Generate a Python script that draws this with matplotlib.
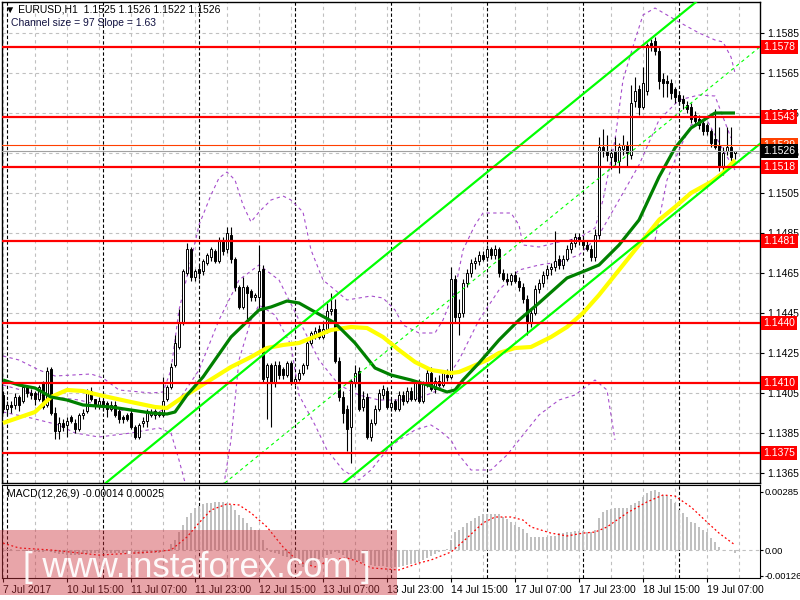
import numpy as np
import matplotlib.pyplot as plt
from matplotlib.patches import Rectangle

# ---- candle data: EURUSD H1, bar 0 = 7 Jul 23:00, bar 183 = 19 Jul 14:00 ----
opens = [
    1.1404, 1.1397, 1.1399, 1.1399, 1.1403, 1.1401, 1.1408, 1.1405, 1.1405, 1.1402,
    1.1410, 1.1399, 1.1417, 1.1395, 1.1386, 1.1390, 1.1389, 1.1393, 1.1390, 1.1387,
    1.1394, 1.1396, 1.1406, 1.1402, 1.1399, 1.1401, 1.1400, 1.1397, 1.1399, 1.1396,
    1.1393, 1.1394, 1.1395, 1.1388, 1.1383, 1.1390, 1.1391, 1.1394, 1.1394, 1.1395,
    1.1394, 1.1402, 1.1408, 1.1419, 1.1428, 1.1440, 1.1465, 1.1477, 1.1463, 1.1467,
    1.1466, 1.1470, 1.1473, 1.1476, 1.1471, 1.1481, 1.1477, 1.1484, 1.1472, 1.1458,
    1.1448, 1.1458, 1.1456, 1.1453, 1.1453, 1.1467, 1.1413, 1.1419, 1.1410, 1.1419,
    1.1417, 1.1414, 1.1420, 1.1410, 1.1412, 1.1415, 1.1419, 1.1430, 1.1434, 1.1437,
    1.1433, 1.1437, 1.1446, 1.1447, 1.1421, 1.1403, 1.1397, 1.1388, 1.1410, 1.1416,
    1.1398, 1.1403, 1.1383, 1.1390, 1.1397, 1.1404, 1.1406, 1.1398, 1.1401, 1.1397,
    1.1404, 1.1401, 1.1406, 1.1402, 1.1410, 1.1401, 1.1409, 1.1415, 1.1407, 1.1411,
    1.1409, 1.1414, 1.1413, 1.1462, 1.1443, 1.1445, 1.1460, 1.1465, 1.1470, 1.1471,
    1.1474, 1.1473, 1.1477, 1.1474, 1.1477, 1.1465, 1.1462, 1.1461, 1.1464, 1.1461,
    1.1458, 1.1452, 1.1440, 1.1445, 1.1457, 1.1460, 1.1464, 1.1467, 1.1468, 1.1472,
    1.1469, 1.1472, 1.1477, 1.1480, 1.1483, 1.1481, 1.1479, 1.1477, 1.1473, 1.1484,
    1.1528, 1.1526, 1.1523, 1.1526, 1.1521, 1.1527, 1.1529, 1.1524, 1.1551, 1.1557,
    1.1548, 1.1556, 1.1580, 1.1581, 1.1576, 1.1562, 1.1561, 1.1560, 1.1557, 1.1554,
    1.1552, 1.1549, 1.1548, 1.1544, 1.1542, 1.1540, 1.1539, 1.1536, 1.1532, 1.1529,
    1.1518, 1.1526, 1.1528, 1.1525,
]
highs = [
    1.1406, 1.1401, 1.1401, 1.1405, 1.1404, 1.1409, 1.1409, 1.1407, 1.1406, 1.1409,
    1.1411, 1.1418, 1.1418, 1.1398, 1.1393, 1.1392, 1.1393, 1.1394, 1.1392, 1.1395,
    1.1397, 1.1407, 1.1408, 1.1402, 1.1403, 1.1402, 1.1401, 1.1401, 1.1401, 1.1398,
    1.1394, 1.1395, 1.1397, 1.1389, 1.1390, 1.1393, 1.1397, 1.1397, 1.1397, 1.1396,
    1.1413, 1.1409, 1.1420, 1.1434, 1.1447, 1.1467, 1.1480, 1.1478, 1.1467, 1.1469,
    1.1472, 1.1475, 1.1478, 1.1477, 1.1483, 1.1483, 1.1488, 1.1488, 1.1473, 1.1459,
    1.1463, 1.1459, 1.1457, 1.1455, 1.1479, 1.1469, 1.1420, 1.1420, 1.1421, 1.1421,
    1.1418, 1.1421, 1.1421, 1.1413, 1.1417, 1.1420, 1.1431, 1.1436, 1.1438, 1.1439,
    1.1441, 1.1450, 1.1455, 1.1452, 1.1423, 1.1406, 1.1399, 1.1412, 1.1419, 1.1418,
    1.1406, 1.1405, 1.1392, 1.1399, 1.1407, 1.1409, 1.1408, 1.1402, 1.1402, 1.1406,
    1.1406, 1.1408, 1.1408, 1.1411, 1.1412, 1.1411, 1.1418, 1.1418, 1.1413, 1.1414,
    1.1416, 1.1417, 1.1468, 1.1464, 1.1452, 1.1462, 1.1467, 1.1472, 1.1473, 1.1476,
    1.1476, 1.1479, 1.1478, 1.1479, 1.1478, 1.1467, 1.1465, 1.1465, 1.1466, 1.1463,
    1.1460, 1.1454, 1.1447, 1.1459, 1.1462, 1.1466, 1.1469, 1.1470, 1.1486, 1.1474,
    1.1474, 1.1479, 1.1482, 1.1485, 1.1485, 1.1483, 1.1481, 1.1479, 1.1487, 1.1533,
    1.1537, 1.1534, 1.1527, 1.1533, 1.1530, 1.1534, 1.1531, 1.1559, 1.1563, 1.1559,
    1.1568, 1.1580, 1.1582, 1.1583, 1.1578, 1.1565, 1.1564, 1.1562, 1.1558, 1.1556,
    1.1554, 1.1551, 1.1550, 1.1546, 1.1544, 1.1542, 1.1540, 1.1537, 1.1547, 1.1538,
    1.1528, 1.1538, 1.1538, 1.1526,
]
lows = [
    1.1395, 1.1394, 1.1395, 1.1397, 1.1396, 1.1400, 1.1403, 1.1402, 1.1399, 1.1401,
    1.1397, 1.1398, 1.1394, 1.1382, 1.1382, 1.1386, 1.1383, 1.1390, 1.1385, 1.1386,
    1.1392, 1.1395, 1.1401, 1.1397, 1.1397, 1.1396, 1.1393, 1.1396, 1.1393, 1.1390,
    1.1390, 1.1391, 1.1387, 1.1382, 1.1382, 1.1388, 1.1388, 1.1393, 1.1392, 1.1393,
    1.1393, 1.1401, 1.1407, 1.1418, 1.1427, 1.1439, 1.1464, 1.1461, 1.1461, 1.1462,
    1.1464, 1.1469, 1.1471, 1.1470, 1.1470, 1.1474, 1.1475, 1.1470, 1.1456, 1.1447,
    1.1447, 1.1442, 1.1451, 1.1451, 1.1447, 1.1410, 1.1392, 1.1388, 1.1408, 1.1412,
    1.1412, 1.1413, 1.1409, 1.1409, 1.1411, 1.1414, 1.1417, 1.1429, 1.1432, 1.1432,
    1.1432, 1.1435, 1.1444, 1.1420, 1.1401, 1.1390, 1.1376, 1.1370, 1.1408, 1.1396,
    1.1396, 1.1382, 1.1381, 1.1389, 1.1396, 1.1402, 1.1397, 1.1396, 1.1396, 1.1396,
    1.1399, 1.1400, 1.1401, 1.1401, 1.1400, 1.1400, 1.1408, 1.1406, 1.1405, 1.1408,
    1.1408, 1.1411, 1.1412, 1.1440, 1.1434, 1.1443, 1.1458, 1.1463, 1.1467, 1.1469,
    1.1471, 1.1471, 1.1472, 1.1472, 1.1463, 1.1461, 1.1459, 1.1459, 1.1460, 1.1456,
    1.1450, 1.1434, 1.1438, 1.1444, 1.1455, 1.1458, 1.1462, 1.1464, 1.1466, 1.1467,
    1.1467, 1.1471, 1.1475, 1.1478, 1.1479, 1.1477, 1.1476, 1.1471, 1.1471, 1.1482,
    1.1523, 1.1521, 1.1517, 1.1519, 1.1515, 1.1524, 1.1518, 1.1522, 1.1548, 1.1544,
    1.1547, 1.1554, 1.1576, 1.1574, 1.1557, 1.1553, 1.1553, 1.1552, 1.1550, 1.1549,
    1.1547, 1.1545, 1.1540, 1.1539, 1.1537, 1.1534, 1.1534, 1.1528, 1.1527, 1.1516,
    1.1514, 1.1524, 1.1521, 1.1522,
]
closes = [
    1.1397, 1.1399, 1.1398, 1.1403, 1.1399, 1.1408, 1.1405, 1.1404, 1.1402, 1.1408,
    1.1398, 1.1416, 1.1395, 1.1386, 1.1390, 1.1388, 1.1391, 1.1391, 1.1387, 1.1394,
    1.1395, 1.1405, 1.1402, 1.1399, 1.1401, 1.1398, 1.1397, 1.1399, 1.1394, 1.1392,
    1.1392, 1.1392, 1.1388, 1.1383, 1.1389, 1.1391, 1.1395, 1.1395, 1.1396, 1.1394,
    1.1401, 1.1408, 1.1418, 1.1430, 1.1440, 1.1466, 1.1477, 1.1463, 1.1466, 1.1465,
    1.1471, 1.1474, 1.1477, 1.1471, 1.1481, 1.1476, 1.1485, 1.1472, 1.1458, 1.1448,
    1.1458, 1.1455, 1.1453, 1.1454, 1.1466, 1.1412, 1.1419, 1.1410, 1.1419, 1.1414,
    1.1414, 1.1420, 1.1410, 1.1412, 1.1415, 1.1419, 1.1430, 1.1435, 1.1436, 1.1433,
    1.1437, 1.1446, 1.1447, 1.1421, 1.1403, 1.1395, 1.1387, 1.1411, 1.1415, 1.1397,
    1.1402, 1.1383, 1.1390, 1.1397, 1.1405, 1.1407, 1.1398, 1.1400, 1.1397, 1.1404,
    1.1401, 1.1406, 1.1402, 1.1410, 1.1401, 1.1410, 1.1415, 1.1407, 1.1411, 1.1409,
    1.1415, 1.1413, 1.1462, 1.1443, 1.1445, 1.1460, 1.1465, 1.1470, 1.1471, 1.1474,
    1.1472, 1.1477, 1.1474, 1.1477, 1.1465, 1.1462, 1.1461, 1.1464, 1.1461, 1.1458,
    1.1452, 1.1440, 1.1445, 1.1457, 1.1460, 1.1464, 1.1467, 1.1468, 1.1471, 1.1469,
    1.1472, 1.1477, 1.1480, 1.1483, 1.1481, 1.1479, 1.1477, 1.1473, 1.1484, 1.1528,
    1.1526, 1.1524, 1.1525, 1.1521, 1.1528, 1.1529, 1.1525, 1.1550, 1.1556, 1.1548,
    1.1560, 1.1579, 1.1578, 1.1576, 1.1561, 1.1560, 1.1560, 1.1555, 1.1553, 1.1551,
    1.1550, 1.1547, 1.1542, 1.1541, 1.1539, 1.1536, 1.1536, 1.1530, 1.1528, 1.1518,
    1.1525, 1.1528, 1.1523, 1.1526,
]

# moving averages, read at selected bars (bar index, price)
ma_green_bars = [0, 4, 8, 12, 16, 20, 27, 32, 37, 41, 43, 46, 50, 57, 64, 67, 71, 74, 78, 83,
                 88, 93, 97, 102, 107, 111, 113, 115, 119, 124, 129, 134, 141, 146, 149, 154,
                 159, 164, 168, 172, 176, 178, 183]
ma_green = [1.14115, 1.14090, 1.14075, 1.14030, 1.14015, 1.13990, 1.13980, 1.13965, 1.13950,
            1.13945, 1.13955, 1.14040, 1.14130, 1.14330, 1.14465, 1.14480, 1.14510, 1.14500,
            1.14455, 1.14400, 1.14300, 1.14175, 1.14140, 1.14115, 1.14085, 1.14055, 1.14065,
            1.14115, 1.14200, 1.14315, 1.14415, 1.14500, 1.14625, 1.14665, 1.14690, 1.14790,
            1.14915, 1.15130, 1.15275, 1.15375, 1.15425, 1.15450, 1.15450]
ma_yellow_bars = [0, 8, 12, 16, 20, 24, 32, 38, 41, 45, 49, 53, 57, 62, 66, 70, 74, 82, 87, 91,
                  95, 99, 103, 107, 112, 114, 117, 121, 124, 128, 132, 137, 141, 145, 149, 154,
                  159, 164, 168, 172, 177, 180, 183]
ma_yellow = [1.13900, 1.13955, 1.14030, 1.14065, 1.14060, 1.14040, 1.14005, 1.13980, 1.13975,
             1.14030, 1.14080, 1.14130, 1.14180, 1.14230, 1.14275, 1.14290, 1.14300, 1.14365,
             1.14380, 1.14375, 1.14330, 1.14265, 1.14205, 1.14165, 1.14150, 1.14155, 1.14180,
             1.14215, 1.14250, 1.14275, 1.14280, 1.14330, 1.14380, 1.14450, 1.14540, 1.14665,
             1.14790, 1.14915, 1.14980, 1.15050, 1.15105, 1.15150, 1.15215]

# bollinger bands (bar index, price)
bb_up_bars = [0, 4, 9, 13, 22, 25, 29, 37, 40, 42, 44, 47, 49, 52, 54, 56, 58, 60, 62, 64, 67,
              70, 72, 75, 77, 80, 86, 92, 95, 98, 100, 104, 108, 110, 113, 115, 118, 120, 127,
              129, 130, 134, 139, 144, 148, 150, 153, 155, 158, 160, 163, 166, 169, 174, 178,
              180, 182, 183]
bb_up = [1.14235, 1.14215, 1.14165, 1.14135, 1.14145, 1.14125, 1.14065, 1.14050, 1.14055,
         1.14165, 1.14465, 1.14715, 1.14890, 1.15040, 1.15125, 1.15155, 1.15115, 1.14990,
         1.14905, 1.14955, 1.15015, 1.15035, 1.15015, 1.14955, 1.14765, 1.14615, 1.14515,
         1.14535, 1.14525, 1.14465, 1.14390, 1.14350, 1.14350, 1.14415, 1.14565, 1.14765,
         1.14890, 1.14950, 1.14950, 1.14890, 1.14790, 1.14780, 1.14805, 1.14825, 1.14875,
         1.15015, 1.15315, 1.15615, 1.15815, 1.15940, 1.15975, 1.15940, 1.15905, 1.15850,
         1.15815, 1.15805, 1.15730, 1.15650]
bb_mid_bars = [0, 9, 19, 29, 39, 44, 49, 54, 59, 64, 69, 74, 79, 84, 89, 94, 99, 104, 109,
               114, 119, 124, 129, 134, 139, 144, 149, 154, 159, 164, 169, 174, 178, 182]
bb_mid = [1.14090, 1.14040, 1.14015, 1.13965, 1.13955, 1.14015, 1.14165, 1.14415, 1.14615,
          1.14690, 1.14615, 1.14415, 1.14215, 1.14090, 1.14040, 1.14015, 1.14015, 1.14025,
          1.14065, 1.14215, 1.14415, 1.14565, 1.14665, 1.14690, 1.14705, 1.14740, 1.14840,
          1.15015, 1.15190, 1.15415, 1.15515, 1.15540, 1.15535, 1.15325]
bb_lo_bars = [0, 7, 14, 18, 24, 32, 39, 42, 44, 46, 55, 57, 59, 62, 64, 66, 68, 72, 74, 78, 81,
              85, 89, 92, 96, 99, 103, 107, 109, 112, 114, 117, 122, 126, 129, 134, 139, 143,
              148, 151, 153]
bb_lo = [1.13955, 1.13925, 1.13890, 1.13850, 1.13830, 1.13850, 1.13875, 1.13850, 1.13715,
         1.13565, 1.13565, 1.13815, 1.14215, 1.14415, 1.14490, 1.14465, 1.14440, 1.14290,
         1.14040, 1.13890, 1.13765, 1.13665, 1.13615, 1.13665, 1.13765, 1.13815, 1.13865,
         1.13890, 1.13865, 1.13815, 1.13740, 1.13665, 1.13665, 1.13740, 1.13815, 1.13940,
         1.14015, 1.14040, 1.14115, 1.14065, 1.13815]
bb_lo2_bars = [163, 166, 169, 172, 176, 180, 183]
bb_lo2 = [1.14815, 1.15115, 1.15265, 1.15390, 1.15415, 1.15265, 1.15165]

# MACD(12,26,9) histogram per bar, in units of 1e-5
macd_hist = [
    8, 6, 4, 2, -3, -5, -6, -8, -10, -12,
    -12, -5, -8, -15, -20, -22, -24, -25, -25, -24,
    -22, -18, -15, -14, -14, -14, -15, -15, -16, -16,
    -17, -18, -19, -20, -19, -18, -17, -16, -15, -14,
    -10, -5, 30, 49, 90, 123, 164, 183, 204, 216,
    226, 229, 232, 234, 234, 236, 229, 221, 196, 172,
    155, 131, 115, 98, 98, 49, 8, -8, -15, -22,
    -28, -33, -45, -60, -75, -82, -80, -72, -60, -45,
    -35, -25, -18, -12, -15, -25, -38, -45, -48, -55,
    -62, -70, -75, -78, -80, -80, -82, -83, -83, -82,
    -80, -75, -70, -65, -60, -50, -40, -30, -20, -12,
    -5, 5, 49, 90, 98, 115, 131, 144, 155, 167,
    175, 176, 176, 176, 175, 164, 152, 139, 123, 115,
    101, 82, 65, 65, 65, 65, 65, 68, 70, 82,
    85, 87, 90, 93, 95, 93, 90, 90, 98, 155,
    188, 197, 201, 205, 205, 208, 208, 221, 232, 242,
    262, 278, 290, 295, 286, 270, 265, 249, 229, 197,
    180, 164, 139, 131, 115, 98, 90, 57, 41, 16,
    0, 0, -3, -14,
]
signal_bars = [0, 4, 12, 24, 37, 42, 46, 49, 52, 56, 59, 62, 66, 70, 74, 78, 82, 86, 89, 92,
               99, 104, 107, 112, 116, 120, 123, 127, 130, 132, 137, 141, 145, 148, 151, 156,
               161, 165, 168, 172, 176, 179, 182, 183]
signal = [34, 10, 0, -25, -10, 0, 64, 133, 196, 226, 221, 182, 113, 15, -59, -83, -49, -39,
          -59, -88, -98, -64, -49, -10, 59, 133, 162, 162, 147, 113, 83, 69, 83, 88, 113, 182,
          236, 270, 265, 211, 137, 83, 39, 25]

levels = [1.1578, 1.1543, 1.1518, 1.1481, 1.1440, 1.1410, 1.1375]
grid_prices = [1.1585, 1.1565, 1.1545, 1.1525, 1.1505, 1.1485, 1.1465, 1.1445, 1.1425,
               1.1405, 1.1385, 1.1365]
time_ticks = [0, 16, 32, 48, 64, 80, 96, 112, 128, 144, 160, 176]
time_labels = ['7 Jul 2017', '10 Jul 15:00', '11 Jul 07:00', '11 Jul 23:00', '12 Jul 15:00',
               '13 Jul 07:00', '13 Jul 23:00', '14 Jul 15:00', '17 Jul 07:00', '17 Jul 23:00',
               '18 Jul 15:00', '19 Jul 07:00']
day_starts = [1, 25, 49, 73, 97, 121, 145, 169]

# regression channel: middle price at bar 86, slope per bar, half width
chan_bar0, chan_mid0, chan_slope, chan_half = 86, 1.14098, 0.000163, 0.00485
bid, ask_line = 1.1526, 1.1529

plt.rcParams['font.family'] = ['Liberation Sans', 'DejaVu Sans']
W, H = 800, 600
fig = plt.figure(figsize=(8, 6), dpi=100)
ax = fig.add_axes([2 / W, 1 - 483 / H, 758 / W, 481 / H])
axm = fig.add_axes([2 / W, 1 - 578 / H, 758 / W, 93 / H])

x = np.arange(len(closes))
o, h, l, c = map(np.array, (opens, highs, lows, closes))
xlim = (-0.25, 189.25)

# grid
gcol = '#c0c0c0'
for a in (ax, axm):
    for b in range(0, 190, 8):
        a.axvline(b, color=gcol, lw=0.8, ls=(0, (3, 3)), zorder=0)
    for b in day_starts:
        a.axvline(b, color='black', lw=0.8, ls=(0, (3, 2)), zorder=0.5)
for p in grid_prices:
    ax.axhline(p, color=gcol, lw=0.8, ls=(0, (3, 3)), zorder=0)
axm.axhline(0, color=gcol, lw=0.8, ls=(0, (3, 3)), zorder=0)

# bollinger bands
bbc = '#a64dcc'
for bx, by in ((bb_up_bars, bb_up), (bb_mid_bars, bb_mid), (bb_lo_bars, bb_lo),
               (bb_lo2_bars, bb_lo2)):
    ax.plot(bx, by, color=bbc, lw=0.8, ls=(0, (3, 3)), zorder=1)

# candles
ax.vlines(x, l, h, color='black', lw=0.8, zorder=2)
up = c >= o
ax.bar(x[up], c[up] - o[up], bottom=o[up], width=0.7, color='white', edgecolor='black',
       lw=0.7, zorder=3)
ax.bar(x[~up], o[~up] - c[~up], bottom=c[~up], width=0.7, color='black', edgecolor='black',
       lw=0.7, zorder=3)

# moving averages
ax.plot(ma_yellow_bars, ma_yellow, color='#ffff00', lw=3.0, zorder=4, solid_capstyle='butt')
ax.plot(ma_green_bars, ma_green, color='#008000', lw=2.3, zorder=4, solid_capstyle='butt')

# regression channel
cx = np.array(xlim)
mid = chan_mid0 + chan_slope * (cx - chan_bar0)
ax.plot(cx, mid + chan_half, color='#00ff00', lw=1.6, zorder=5)
ax.plot(cx, mid - chan_half, color='#00ff00', lw=1.6, zorder=5)
ax.plot(cx, mid, color='#00ff00', lw=0.8, ls=(0, (3, 3)), zorder=5)

# horizontal levels
for p in levels:
    ax.axhline(p, color='#ff0000', lw=1.6, zorder=6)
ax.axhline(ask_line, color='#ff4000', lw=0.8, zorder=6)
ax.axhline(bid, color='#a0a0a0', lw=0.8, zorder=5)

ax.set_xlim(*xlim)
ax.set_ylim(1.16015 - 483 / 20000, 1.16015 - 2 / 20000)
ax.yaxis.tick_right()
ax.set_yticks(grid_prices)
ax.set_yticklabels([f'{p:.4f}' for p in grid_prices])
ax.tick_params(axis='y', labelsize=7.5, length=3, pad=2, width=0.8)
ax.set_xticks([])
for s in ax.spines.values():
    s.set_linewidth(1.0)

# price labels on the right
def tag(p, fc, txt):
    ax.annotate(txt, xy=(1.0, p), xycoords=('axes fraction', 'data'), xytext=(2.5, 0),
                textcoords='offset points', va='center', ha='left', fontsize=7.5,
                color='white', bbox=dict(boxstyle='square,pad=0.2', fc=fc, ec='none'),
                zorder=10, annotation_clip=False)

tag(ask_line, '#ff4000', f'{ask_line:.4f}')
tag(bid, 'black', f'{bid:.4f}')
for p in levels:
    tag(p, '#ff0000', f'{p:.4f}')

# MACD
mh = np.array(macd_hist) * 1e-5
axm.bar(x, mh, width=0.7, color='#c0c0c0', zorder=2)
axm.plot(signal_bars, np.array(signal) * 1e-5, color='red', lw=0.9, ls=(0, (1.5, 2)), zorder=3)
axm.set_xlim(*xlim)
axm.set_ylim(-28 * 4.91e-5, 65 * 4.91e-5)
axm.yaxis.tick_right()
axm.set_yticks([0.00285, 0.0, -0.00126])
axm.set_yticklabels(['0.00285', '0.00', '-0.00126'])
axm.tick_params(axis='y', labelsize=6.8, length=2, pad=1, width=0.8)
axm.set_xticks(time_ticks)
axm.set_xticklabels(time_labels, ha='left')
axm.tick_params(axis='x', labelsize=7.5, length=3, pad=2, width=0.8)

# header texts
fig.text(5 / W, 1 - 10 / H, '\u25bc EURUSD,H1  1.1525 1.1526 1.1522 1.1526', fontsize=7.5,
         va='center', ha='left')
fig.text(11 / W, 1 - 23 / H, 'Channel size = 97 Slope = 1.63', fontsize=7.5, va='center',
         ha='left', color='#101040')
fig.text(7 / W, 1 - 494 / H, 'MACD(12,26,9) -0.00014 0.00025', fontsize=7.5, va='center',
         ha='left')

# watermark
fig.patches.append(Rectangle((0, 1 - 595 / H), 397 / W, 65 / H, transform=fig.transFigure,
                             facecolor=(0.8, 0.2, 0.24), alpha=0.44, edgecolor='none',
                             zorder=20))
fig.text(197 / W, 1 - 577 / H, '[ www.instaforex.com ]', fontsize=25, color='white',
         alpha=0.95, ha='center', va='baseline', zorder=21)

fig.savefig('out.png', dpi=100)
